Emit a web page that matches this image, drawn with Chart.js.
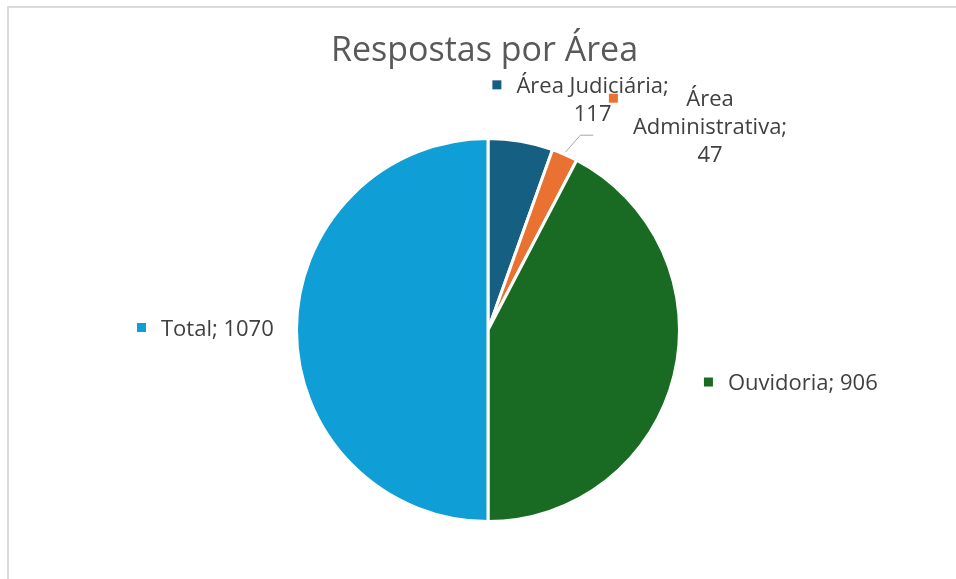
<!DOCTYPE html>
<html>
<head>
<meta charset="utf-8">
<script src="https://cdn.jsdelivr.net/npm/chart.js@4"></script>
<style>
  html, body { margin: 0; padding: 0; background: #fff; }
  #chart { display: block; }
</style>
</head>
<body>
<canvas id="chart" width="956" height="579"></canvas>
<script>
// Data
const categories = ["Área Judiciária", "Área Administrativa", "Ouvidoria", "Total"];
const values = [117, 47, 906, 1070];
// label text lines (Excel wraps the long ones)
const labelLines = [
  ["Área Judiciária;", "117"],
  ["Área", "Administrativa;", "47"],
  ["Ouvidoria; 906"],
  ["Total; 1070"],
];

const colors = ["#156082", "#E97132", "#196B24", "#0F9ED5"];
const FONT = "'Open Sans', 'Liberation Sans', sans-serif";
const TEXT = "#404040";

// where each label sits, relative to the middle of its slice's outer edge
const labelOffsets = [
  { dx: -28.6, dy: -55 },
  { dx: 43.5, dy: -55, leader: true },
  { dx: 28.5, dy: 6 },
  { dx: -158, dy: -2.5 },
];

const framePlugin = {
  id: "frame",
  beforeDraw(chart) {
    const c = chart.ctx;
    c.save();
    c.fillStyle = "#fff";
    c.fillRect(0, 0, chart.width, chart.height);
    c.strokeStyle = "#d9d9d9";
    c.lineWidth = 2;
    c.beginPath();
    c.moveTo(8, chart.height);
    c.lineTo(8, 7);
    c.lineTo(chart.width, 7);
    c.stroke();
    // title
    c.fillStyle = "#595959";
    c.font = "34px " + FONT;
    c.textAlign = "center";
    c.textBaseline = "alphabetic";
    c.fillText("Respostas por Área", 484.5, 61);
    c.restore();
  },
};

const labelPlugin = {
  id: "sliceLabels",
  afterDatasetsDraw(chart) {
    const c = chart.ctx;
    const arcs = chart.getDatasetMeta(0).data;
    c.save();
    c.font = "22px " + FONT;
    arcs.forEach((arc, i) => {
      const p = arc.getProps(["x", "y", "startAngle", "endAngle", "outerRadius"]);
      const mid = (p.startAngle + p.endAngle) / 2;
      const r = p.outerRadius + 1.5;
      const ax = p.x + Math.cos(mid) * r;
      const ay = p.y + Math.sin(mid) * r;
      const off = labelOffsets[i];
      const keyX = ax + off.dx;
      const keyY = ay + off.dy; // center of key square
      const lines = labelLines[i];
      const widths = lines.map((l) => c.measureText(l).width);
      const blockW = Math.max(...widths);
      const textLeft = keyX + 24;
      const cx = textLeft + blockW / 2;

      c.fillStyle = colors[i];
      c.fillRect(keyX, keyY - 4.5, 9, 9);

      c.fillStyle = TEXT;
      c.textAlign = "center";
      c.textBaseline = "alphabetic";
      lines.forEach((l, k) => {
        c.fillText(l, cx, keyY + 8 + k * 28);
      });

      if (off.leader) {
        c.strokeStyle = "#a6a6a6";
        c.lineWidth = 1;
        c.beginPath();
        c.moveTo(ax, ay - 1);
        c.lineTo(ax + 15, ay - 18);
        c.lineTo(ax + 28, ay - 18);
        c.stroke();
      }
    });
    c.restore();
  },
};

new Chart(document.getElementById("chart"), {
  type: "pie",
  data: {
    labels: categories,
    datasets: [
      {
        data: values,
        backgroundColor: colors,
        borderColor: "#ffffff",
        borderWidth: 3,
      },
    ],
  },
  options: {
    responsive: false,
    animation: false,
    layout: { padding: { left: 295, right: 275, top: 137, bottom: 56 } },
    plugins: {
      legend: { display: false },
      tooltip: { enabled: false },
    },
  },
  plugins: [framePlugin, labelPlugin],
});
</script>
</body>
</html>
